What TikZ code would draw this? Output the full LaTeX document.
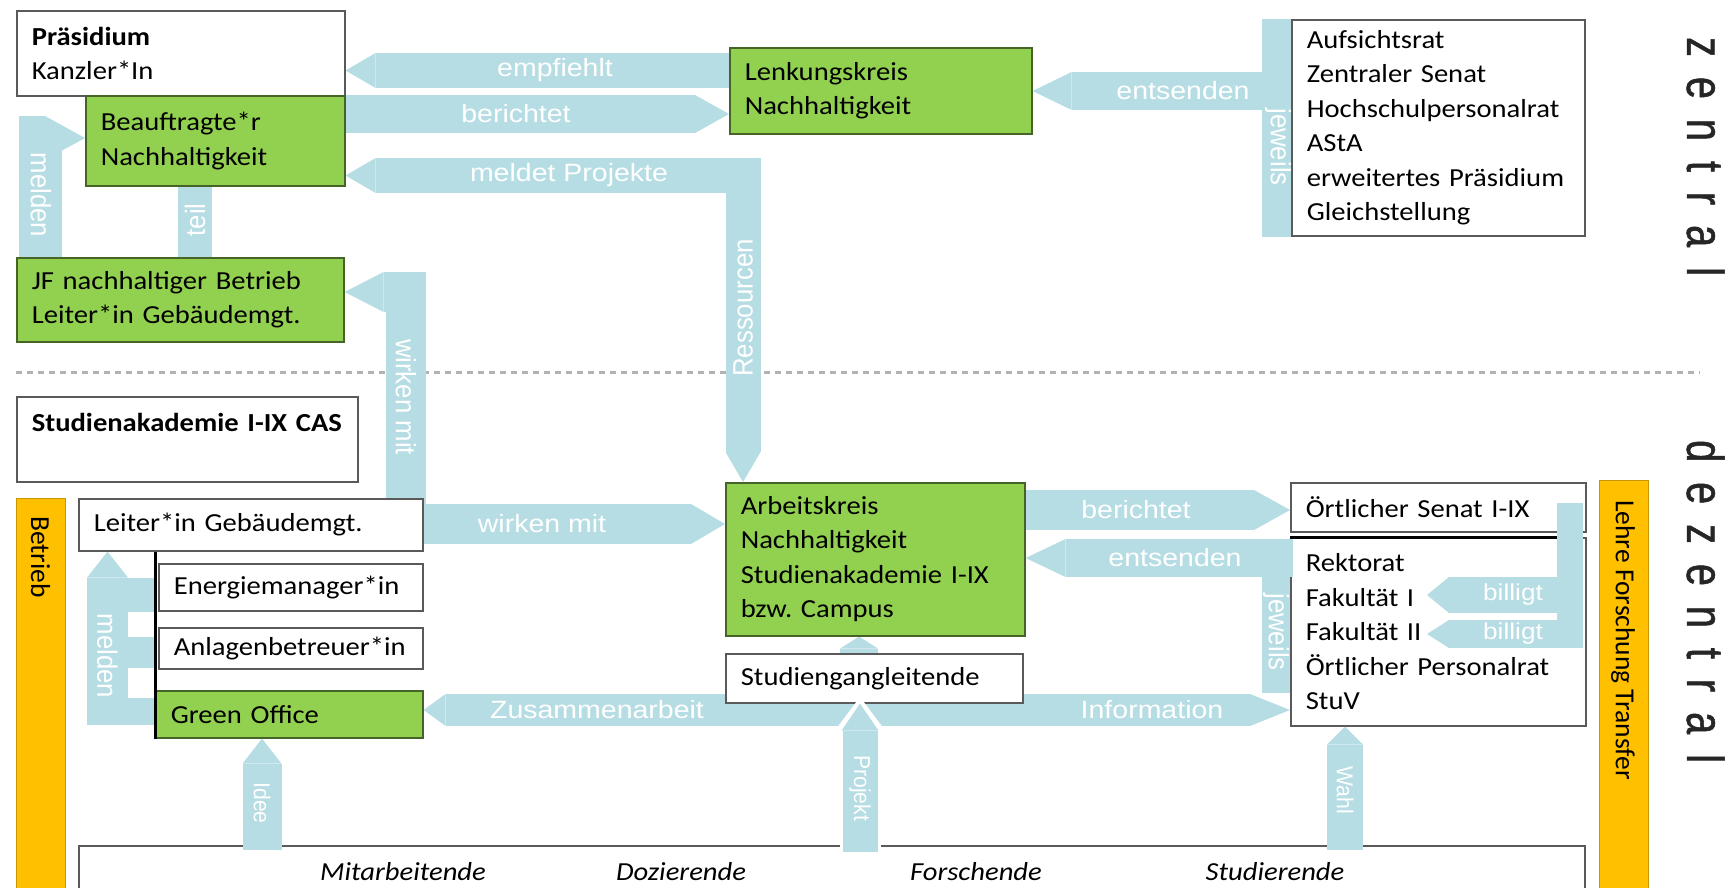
\documentclass[tikz,border=0pt]{standalone}
\usepackage{fontspec}
\setmainfont{Carlito}
\newfontfamily\boxfont{Carlito}[FakeStretch=1.1]
\newfontfamily\labfont{Liberation Sans}[FakeStretch=1.14]
\newfontfamily\vlabfont{Liberation Sans}[FakeStretch=0.92]
\newfontfamily\zfont{Liberation Sans}[FakeStretch=0.76, FakeBold=1, LetterSpace=38.5]
\usetikzlibrary{arrows.meta}
\pgfdeclarelayer{bg}
\pgfsetlayers{bg,main}

\definecolor{boxgreen}{RGB}{146,208,80}
\definecolor{greenline}{RGB}{70,100,40}
\definecolor{boxline}{RGB}{90,90,90}
\definecolor{bandblue}{RGB}{183,221,228}
\definecolor{barorange}{RGB}{255,192,0}
\definecolor{barline}{RGB}{200,150,0}

\newcommand\boxtxt{\boxfont\fontsize{26}{34.5}\selectfont}
\newcommand\vboxtxt{\rmfamily\fontsize{27.5}{32}\selectfont}
\newcommand\labtxt{\labfont\fontsize{25}{30}\selectfont}
\newcommand\slabtxt{\labfont\fontsize{23}{28}\selectfont}
\newcommand\vlabtxt{\vlabfont\fontsize{28}{32}\selectfont}
\newcommand\svlabtxt{\vlabfont\fontsize{23}{28}\selectfont}
\newcommand\ztxt{\zfont\fontsize{52}{60}\selectfont}

\begin{document}
\begin{tikzpicture}[x=1pt, y=-1pt,
    box/.style 2 args={draw=boxline, line width=1.6pt, fill=white, anchor=north west,
      text width=#1, minimum height=#2, inner xsep=15pt, inner ysep=0pt, align=left, font=\boxtxt},
    gbox/.style 2 args={box={#1}{#2}, draw=greenline, fill=boxgreen},
    bar/.style={draw=barline, line width=1pt, fill=barorange, anchor=north west,
      minimum width=49pt, minimum height=420pt, inner sep=0pt},
    fat/.style={draw=bandblue, line width=#1},
    lab/.style={text=white, font=\labtxt, inner sep=0pt},
    slab/.style={text=white, font=\slabtxt, inner sep=0pt},
    vlab/.style={text=white, font=\vlabtxt, inner sep=0pt, rotate=-90},
    svlab/.style={text=white, font=\svlabtxt, inner sep=0pt, rotate=-90},
    ulab/.style={text=white, font=\vlabtxt, inner sep=0pt, rotate=90},
    vtxt/.style={font=\vboxtxt, inner sep=0pt, rotate=-90},
    ptxt/.style={font=\boxtxt\itshape, inner sep=0pt},
    zlab/.style={font=\ztxt, inner sep=0pt, rotate=-90, anchor=base west, text=black!85},
  ]
  \useasboundingbox (0,0) rectangle (1727,888);

  % zentral
  \node[box={298pt}{85pt}] (prae) at (16,10) {\textbf{Präsidium}\\Kanzler*In};
  \node[gbox={229pt}{90pt}] (beauf) at (85,95) {Beauftragte*r\\Nachhaltigkeit};
  \node[gbox={297pt}{84pt}] (jf) at (16,257) {JF nachhaltiger Betrieb\\Leiter*in Gebäudemgt.};
  \node[gbox={272pt}{86pt}] (lenk) at (729,47) {Lenkungskreis\\Nachhaltigkeit};
  \node[box={263pt}{216pt}] (aufs) at (1291,19) {Aufsichtsrat\\Zentraler Senat\\Hochschulpersonalrat\\AStA\\erweitertes Präsidium\\Gleichstellung};

  % dezentral
  \node[box={311pt}{85pt}] (cas) at (16,396) {\textbf{Studienakademie I-IX CAS}\\\mbox{}};
  \node[box={314pt}{52pt}] (leiter) at (78,498) {Leiter*in Gebäudemgt.};
  \node[box={234pt}{47pt}] (energie) at (158,563) {Energiemanager*in};
  \node[box={234pt}{41pt}] (anlagen) at (158,627) {Anlagenbetreuer*in};
  \node[gbox={237pt}{47pt}] (go) at (155,690) {Green Office};
  \node[gbox={269pt}{153pt}] (ak) at (725,482) {Arbeitskreis\\Nachhaltigkeit\\Studienakademie I-IX\\bzw.\ Campus};
  \node[box={267pt}{49pt}] (stud) at (725,653) {Studiengangleitende};
  \node[box={265pt}{49pt}] (senat) at (1290,482) {Örtlicher Senat I-IX};
  \node[box={265pt}{188pt}] (rekt) at (1290,537) {Rektorat\\Fakultät I\\Fakultät II\\Örtlicher Personalrat\\StuV};
  \node[box={1476pt}{62pt}] (basis) at (78,845) {};
  \node[bar] (betrieb) at (16,498) {};
  \node[bar] (lft) at (1599,480) {};

  \node[ptxt] (mit) at (403,872) {Mitarbeitende};
  \node[ptxt] (doz) at (681,872) {Dozierende};
  \node[ptxt] (forsch) at (976,872) {Forschende};
  \node[ptxt] (studi) at (1275,872) {Studierende};

  \coordinate (fak1) at (1427,595);
  \coordinate (fak2) at (1427,634);

  \begin{pgfonlayer}{bg}
    \fill[white] (0,0) rectangle (1727,888);
    \draw[gray!60, line width=3pt, dash pattern=on 6pt off 5pt] (16,372) -- (1700,372);

    \draw[fat=35pt, -{Triangle[length=30pt 0 0, width=35pt 0 0, line width=0pt 0 0]}] (lenk.west |- 0,70.5) -- (prae.east |- 0,70.5);
    \draw[fat=38pt, -{Triangle[length=34pt 0 0, width=38pt 0 0, line width=0pt 0 0]}] (beauf.east |- 0,114) -- (lenk.west |- 0,114);
    \draw[fat=35pt, {Triangle[length=30pt 0 0, width=35pt 0 0, line width=0pt 0 0]}-{Triangle[length=30pt 0 0, width=35pt 0 0, line width=0pt 0 0]}] (beauf.east |- 0,175.5) -| (743,0 |- ak.north);
    \draw[fat=38pt, -{Triangle[length=39pt 0 0, width=38pt 0 0, line width=0pt 0 0]}] (aufs.west |- 0,91) -- (lenk.east |- 0,91);
    \draw[fat=30pt] ([xshift=-14.5pt]aufs.north west) -- ([xshift=-14.5pt]aufs.south west);
    \draw[fat=43pt, -{Triangle[length=40pt 0 0, width=44pt 0 0, line width=0pt 0 0]}] (40.5,0 |- jf.north) -- (40.5,138) -- (beauf.west |- 0,138);
    \draw[fat=34pt] (195,0 |- beauf.south) -- (195,0 |- jf.north);
    \draw[fat=40pt, {Triangle[length=39pt 0 0, width=40pt 0 0, line width=0pt 0 0]}-{Triangle[length=34pt 0 0, width=40pt 0 0, line width=0pt 0 0]}] (jf.east |- 0,292) -- (406,292) -- (406,524) -- (ak.west |- 0,524);

    \draw[fat=40pt, -{Triangle[length=36pt 0 0, width=40pt 0 0, line width=0pt 0 0]}] (ak.east |- 0,510) -- (senat.west |- 0,510);
    \draw[fat=32pt, {Triangle[length=22pt 0 0, width=32pt 0 0, line width=0pt 0 0]}-{Triangle[length=40pt 0 0, width=32pt 0 0, line width=0pt 0 0]}] (go.east |- 0,710) -- (rekt.west |- 0,710);
    \draw[fat=38pt, -{Triangle[length=12pt 0 0, width=38pt 0 0, line width=0pt 0 0]}] (859,0 |- stud.north) -- (859,0 |- ak.south);
    \draw[fat=41pt, -{Triangle[length=26pt 0 0, width=41pt 0 0, line width=0pt 0 0]}] (107.5,725) -- (107.5,0 |- leiter.south);
    \draw[fat=34pt] (107.5,595) -- (go.west |- 0,595);
    \draw[fat=31pt] (107.5,652.5) -- (go.west |- 0,652.5);
    \draw[fat=27pt] (107.5,711.5) -- (go.west |- 0,711.5);
  \end{pgfonlayer}

  \draw[line width=3pt] (go.south west) -- (go.south west |- leiter.south);
  \draw[line width=3pt] (rekt.north west) -- (1557,0 |- rekt.north);

  \draw[fat=26pt] (1570,503) -- (1570,648);
  \draw[fat=36pt, -{Triangle[length=22pt 0 0, width=36pt 0 0, line width=0pt 0 0]}] (1583,595) -- (fak1);
  \draw[fat=28pt, -{Triangle[length=22pt 0 0, width=28pt 0 0, line width=0pt 0 0]}] (1583,634) -- (fak2);
  \draw[fat=38pt, -{Triangle[length=40pt 0 0, width=38pt 0 0, line width=0pt 0 0]}] (1293,558) -- (ak.east |- 0,558);
  \draw[fat=28pt] (1276,540) -- (1276,693);

  \draw[fat=39pt, -{Triangle[length=25pt 0 0, width=39pt 0 0, line width=0pt 0 0]}] (262,850) -- (262,0 |- go.south);
  \draw[fat=36pt, -{Triangle[length=18pt 0 0, width=36pt 0 0, line width=0pt 0 0]}] (1345,850) -- (1345,0 |- rekt.south);
  \draw[draw=white, line width=41pt, -{Triangle[length=30pt 0 0, width=45pt 0 0, line width=0pt 0 0]}] (860,852) -- (860,697);
  \draw[fat=35pt, -{Triangle[length=27pt 0 0, width=37pt 0 0, line width=0pt 0 0]}] (860,852) -- (860,0 |- stud.south);

  % labels
  \node[lab] (lEmpf) at (555,70.5) {empfiehlt};
  \node[lab] (lBer1) at (516,114) {berichtet};
  \node[lab] (lMeld) at (569,175.5) {meldet Projekte};
  \node[lab] (lEnt1) at (1183,91) {entsenden};
  \node[vlab] (lJew1) at (1278,147) {jeweils};
  \node[vlab] (lMel1) at (41,195) {melden};
  \node[ulab] (lTeil) at (195,220) {teil};
  \node[vlab] (lWirk1) at (406,397) {wirken mit};
  \node[ulab] (lRess) at (743,308) {Ressourcen};
  \node[lab] (lWirk2) at (542,524) {wirken mit};
  \node[lab] (lBer2) at (1136,510) {berichtet};
  \node[lab] (lEnt2) at (1175,558) {entsenden};
  \node[vlab] (lJew2) at (1276,632) {jeweils};
  \node[slab] (lBill1) at (1513,595) {billigt};
  \node[slab] (lBill2) at (1513,634) {billigt};
  \node[lab] (lZus) at (597,710) {Zusammenarbeit};
  \node[lab] (lInfo) at (1152,710) {Information};
  \node[vlab] (lMel2) at (107.5,656) {melden};
  \node[svlab] (lIdee) at (262,803) {Idee};
  \node[svlab] (lProj) at (860,788) {Projekt};
  \node[svlab] (lWahl) at (1345,790) {Wahl};

  \node[vtxt] (tBetrieb) at (40.5,557) {Betrieb};
  \node[vtxt] (tLft) at (1623,640) {Lehre Forschung Transfer};
  \node[zlab] (zentral) at (1687,37) {zentral};
  \node[zlab] (dezentral) at (1687,440) {dezentral};
\end{tikzpicture}
\end{document}
